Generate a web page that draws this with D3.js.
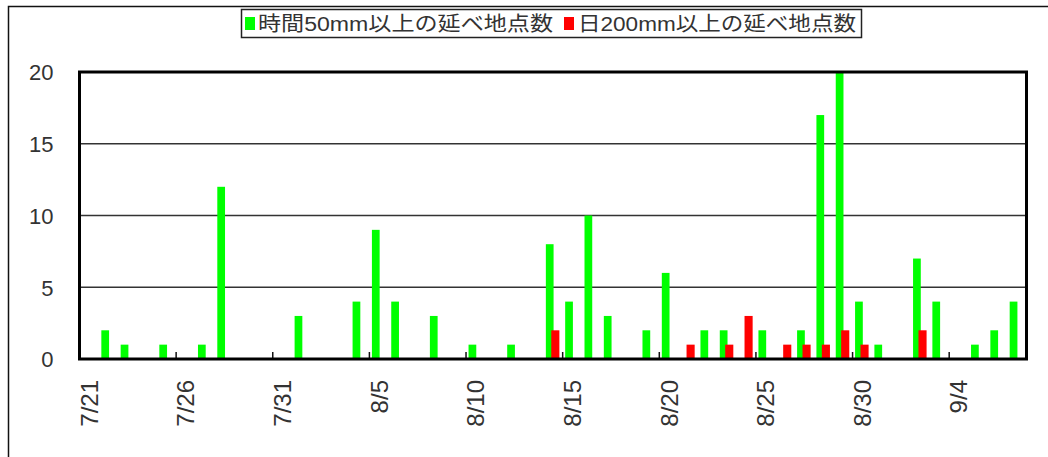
<!DOCTYPE html>
<html>
<head>
<meta charset="utf-8">
<title>延べ地点数</title>
<script src="https://d3js.org/d3.v7.min.js"></script>
<style>
  body { margin: 0; background: #fff; }
  svg text { font-family: "Liberation Sans", Arial, "Noto Sans CJK JP", sans-serif; fill: #333; }
</style>
</head>
<body>
<svg id="chart" width="1048" height="457"></svg>
<script>
// categories: every day from 7/21 to 9/7
const dates = ["7/21","7/22","7/23","7/24","7/25","7/26","7/27","7/28","7/29","7/30","7/31",
  "8/1","8/2","8/3","8/4","8/5","8/6","8/7","8/8","8/9","8/10","8/11","8/12","8/13","8/14",
  "8/15","8/16","8/17","8/18","8/19","8/20","8/21","8/22","8/23","8/24","8/25","8/26","8/27",
  "8/28","8/29","8/30","8/31","9/1","9/2","9/3","9/4","9/5","9/6","9/7"];

// 時間50mm以上の延べ地点数
const hourly50 = [0,2,1,0,1,0,1,12,0,0,0,
  3,0,0,4,9,4,0,3,0,1,0,1,0,8,
  4,10,3,0,2,6,0,2,2,0,2,0,2,
  17,20,4,1,0,7,4,0,1,2,4];

// 日200mm以上の延べ地点数
const daily200 = [0,0,0,0,0,0,0,0,0,0,0,
  0,0,0,0,0,0,0,0,0,0,0,0,0,2,
  0,0,0,0,0,0,1,0,1,3,0,1,1,
  1,2,1,0,0,2,0,0,0,0,0];

const labelDates = dates.filter((d, i) => i % 5 == 0);
const yTicks = [0, 5, 10, 15, 20];
const seriesNames = ["時間50mm以上の延べ地点数", "日200mm以上の延べ地点数"];
const seriesColors = ["#00ff00", "#ff0000"];

const svg = d3.select("#chart");
const plotLeft = 79.5, plotRight = 1026.5, plotTop = 72, plotBottom = 359;

const x = d3.scaleBand().domain(dates).range([plotLeft, plotRight]).padding(0);
const y = d3.scaleLinear().domain([0, 20]).range([plotBottom, plotTop]);
const bw = x.bandwidth();

// outer chart border (runs off the right and bottom edges)
svg.append("rect")
  .attr("x", 8.5).attr("y", 6.5)
  .attr("width", 1100).attr("height", 500)
  .attr("fill", "none").attr("stroke", "#111").attr("stroke-width", 1.5);

// gridlines
svg.append("g")
  .selectAll("line")
  .data(yTicks.filter(v => v > 0 && v < 20))
  .enter().append("line")
  .attr("x1", plotLeft).attr("x2", plotRight)
  .attr("y1", d => y(d)).attr("y2", d => y(d))
  .attr("stroke", "#333").attr("stroke-width", 1.5);

// bars
const rows = dates.map((d, i) => ({ date: d, g: hourly50[i], r: daily200[i] }));

svg.append("g")
  .selectAll("rect")
  .data(rows.filter(d => d.g > 0))
  .enter().append("rect")
  .attr("x", d => x(d.date) + bw * 0.13)
  .attr("width", bw * 0.4)
  .attr("y", d => y(d.g))
  .attr("height", d => y(0) - y(d.g))
  .attr("fill", seriesColors[0]);

svg.append("g")
  .selectAll("rect")
  .data(rows.filter(d => d.r > 0))
  .enter().append("rect")
  .attr("x", d => x(d.date) + bw * 0.41)
  .attr("width", bw * 0.42)
  .attr("y", d => y(d.r))
  .attr("height", d => y(0) - y(d.r))
  .attr("fill", seriesColors[1]);

// small tick marks on the category axis
svg.append("g")
  .selectAll("line")
  .data(labelDates.slice(1))
  .enter().append("line")
  .attr("x1", d => x(d)).attr("x2", d => x(d))
  .attr("y1", plotBottom - 7).attr("y2", plotBottom)
  .attr("stroke", "#111").attr("stroke-width", 1.5);

// plot frame
svg.append("rect")
  .attr("x", plotLeft).attr("y", plotTop)
  .attr("width", plotRight - plotLeft).attr("height", plotBottom - plotTop)
  .attr("fill", "none").attr("stroke", "#000").attr("stroke-width", 3);

// y axis
const yAxis = d3.axisLeft(y).tickValues(yTicks).tickSize(0).tickPadding(26);
svg.append("g")
  .attr("transform", "translate(" + plotLeft + ",0)")
  .call(yAxis)
  .call(g => g.select(".domain").remove())
  .selectAll("text")
  .style("font-size", "22px")
  .attr("dy", "0.36em");

// x axis
const xAxis = d3.axisBottom(x).tickValues(labelDates).tickSize(0);
svg.append("g")
  .attr("transform", "translate(0," + plotBottom + ")")
  .call(xAxis)
  .call(g => g.select(".domain").remove())
  .selectAll("text")
  .style("font-size", "24px")
  .style("text-anchor", "end")
  .attr("transform", "rotate(-90)")
  .attr("x", -21).attr("y", 0)
  .attr("dy", "0.36em");

// legend
const legend = svg.append("g");
legend.append("rect")
  .attr("x", 241.5).attr("y", 9.5)
  .attr("width", 620).attr("height", 28)
  .attr("fill", "#fff").attr("stroke", "#222").attr("stroke-width", 1.5);

const legendItems = [
  { x: 245, tx: 258, len: 295 },
  { x: 564, tx: 578, len: 278 }
];
legendItems.forEach((it, i) => {
  legend.append("rect")
    .attr("x", it.x).attr("y", 17)
    .attr("width", 10).attr("height", 13)
    .attr("fill", seriesColors[i]);
  legend.append("text")
    .attr("x", it.tx).attr("y", 31)
    .attr("textLength", it.len)
    .attr("lengthAdjust", "spacingAndGlyphs")
    .style("font-size", "20px")
    .text(seriesNames[i]);
});
</script>
</body>
</html>
